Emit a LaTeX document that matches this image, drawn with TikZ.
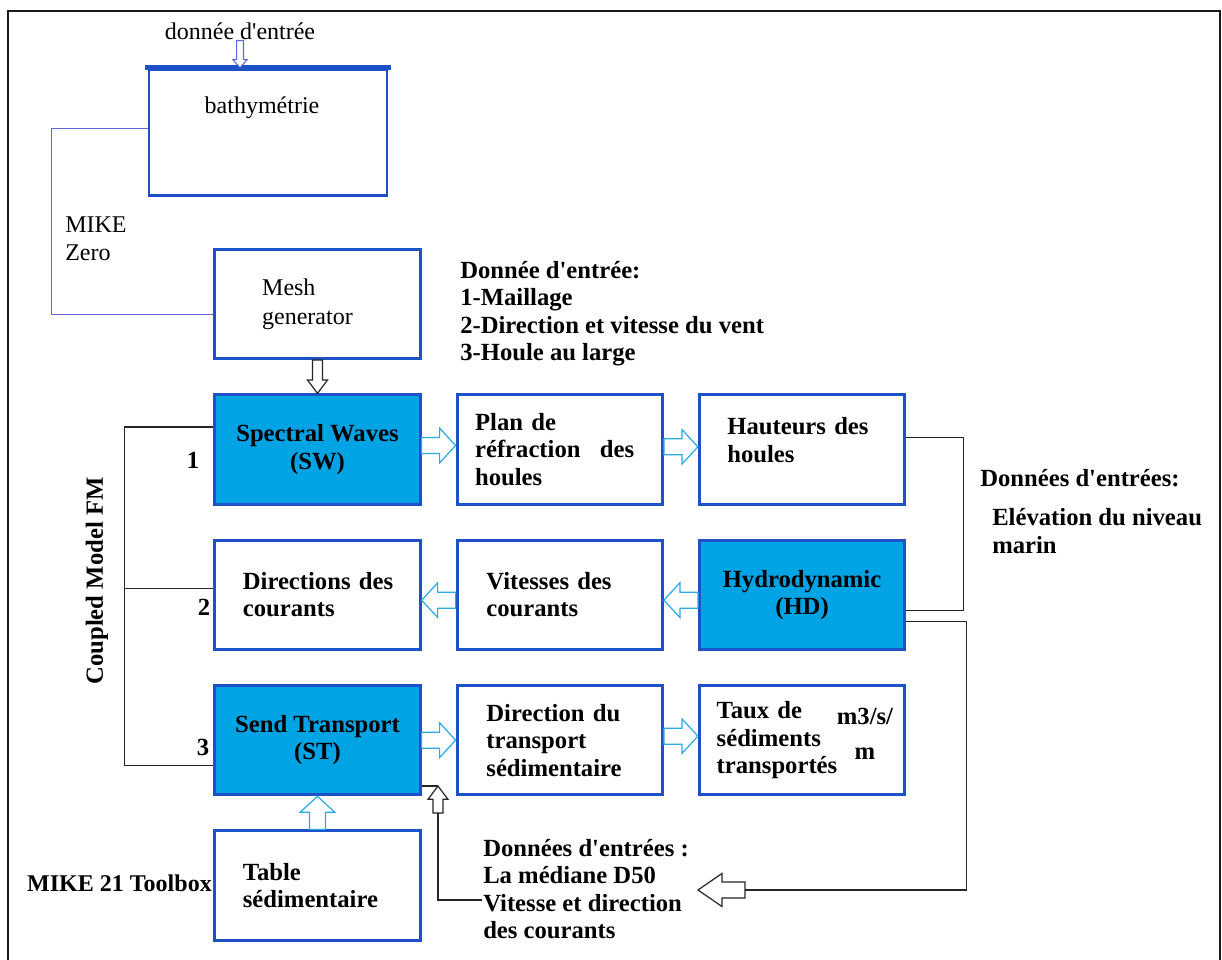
\documentclass[tikz,border=0pt]{standalone}
\usepackage{fontspec}
\setmainfont{Liberation Serif}
\usepackage{tikz}
\usetikzlibrary{positioning, calc}

\definecolor{boxblue}{RGB}{30,80,200}
\definecolor{modelfill}{RGB}{0,163,228}
\definecolor{flowcyan}{RGB}{40,170,232}
\definecolor{zeroblue}{RGB}{95,100,225}

\newcommand{\ap}{\textquotesingle}

% hollow block arrow drawn from the start point to the target: shaft half width / head half width / head length
\tikzset{hollow/.style args={#1/#2/#3}{to path={
  let \p1=(\tikztostart), \p2=(\tikztotarget),
      \n1={atan2(\y2-\y1,\x2-\x1)}, \n2={veclen(\x2-\x1,\y2-\y1)} in
  {[shift={(\p1)}, rotate=\n1]
   (0pt,-#1) -- (\n2-#3,-#1) -- (\n2-#3,-#2) -- (\n2,0pt)
   -- (\n2-#3,#2) -- (\n2-#3,#1) -- (0pt,#1) -- cycle}}}}

\tikzstyle{block} = [rectangle, draw=boxblue, line width=2.2pt, minimum width=154pt, minimum height=82pt, font=\bfseries\fontsize{18.5}{20.6}\selectfont]
\tikzstyle{model} = [block, fill=modelfill, align=center]
\tikzstyle{note} = [inner sep=0pt, align=left, font=\bfseries\fontsize{18.5}{20.6}\selectfont]
\tikzstyle{plain} = [inner sep=0pt, align=left, font=\fontsize{18}{21}\selectfont]
\tikzstyle{link} = [draw=black!85, line width=1pt]
\tikzstyle{zeroline} = [draw=zeroblue, line width=0.9pt]
\tikzstyle{flow} = [draw=flowcyan, fill=white, line width=0.9pt, hollow=6pt/13pt/12pt]
\tikzstyle{feed} = [draw=black!85, fill=white, line width=0.9pt, hollow=3.75pt/7.5pt/10pt]
\tikzstyle{bigfeed} = [draw=black!85, fill=white, line width=0.9pt, hollow=6pt/12.4pt/18pt]
\tikzstyle{inflow} = [draw=zeroblue, fill=white, line width=0.8pt, hollow=2.6pt/5.3pt/6pt]

\begin{document}
\begin{tikzpicture}[x=0.75pt, y=-0.75pt, node distance=24.8pt and 25.5pt]
    \useasboundingbox (0,0) rectangle (1222,960);
    % page frame, open at the bottom
    \draw[line width=1.6pt, black!90] (8,962) -- (8,11) -- (1220,11) -- (1220,962);

    % MIKE Zero part
    \node[block, minimum width=178.5pt, minimum height=95pt] (bathy) at (268,132.5) {};
    \draw[boxblue, line width=3.6pt] ([xshift=-2pt]bathy.north west) -- ([xshift=2pt]bathy.north east);
    \node[plain, below=22pt of bathy.north, xshift=-4.5pt] (bathylabel) {bathymétrie};
    \node[plain, anchor=base] (topinput) at (240,40) {donnée d\ap entrée};
    \draw[inflow] (topinput.south) to (topinput.south |- bathy.north);

    % Coupled model FM
    \node[model] (sw) at (317.5,449.5) {Spectral Waves\\(SW)};
    \node[block, font=\fontsize{18}{21.75}\selectfont, text width=83pt, align=left, above=25pt of sw] (mesh) {Mesh\\generator};
    \node[block, text width=127pt, align=left, right=of sw] (plan) {Plan de\\réfraction\hspace{0.45em} des\\houles};
    \node[block, text width=112pt, align=left, right=of plan] (hauteurs) {Hauteurs des\\houles\\[-6pt]\mbox{}};

    \node[block, text width=112pt, align=left, below=of sw] (dirc) {Directions~des\\courants};
    \node[block, text width=110pt, align=left, right=of dirc] (vitc) {Vitesses des\\courants};
    \node[model, right=of vitc] (hd) {Hydrodynamic\\(HD)};

    \node[model, below=of dirc] (st) {Send Transport\\(ST)};
    \node[block, text width=110pt, align=left, right=of st] (dirt) {Direction du\\transport\\sédimentaire};
    \node[block, text width=128pt, align=left, right=of dirt] (taux) {Taux de\\sédiments\\transportés};
    \node[note, align=center, font=\bfseries\fontsize{18.5}{26}\selectfont] (unit) at (865,734) {m3/s/\\m};

    \node[block, text width=112pt, align=left, below=of st] (table) {Table\\sédimentaire};

    % side labels
    \node[plain, anchor=west] (mikezero) at (65,239) {MIKE\\Zero};
    \node[note, rotate=90] (cplabel) at (97,581) {Coupled Model FM};
    \node[note, font=\bfseries\fontsize{18}{20.6}\selectfont, anchor=east] (toolbox) at (212,883) {MIKE 21 Toolbox};
    \node[note] (n1) at (193,460) {1};
    \node[note] (n2) at (204,607) {2};
    \node[note] (n3) at (203,747) {3};

    % input data
    \node[note, anchor=west] (meshin) at (460,313.5) {Donnée d\ap entrée:\\1-Maillage\\2-Direction et vitesse du vent\\3-Houle au large};
    \node[note, anchor=west] (hdin) at (980,478) {Données d\ap entrées:};
    \node[note, anchor=west] (hdlevel) at (992,531) {Elévation du niveau\\marin};
    \node[note, anchor=west] (sedin) at (483,889) {Données d\ap entrées :\\La médiane D50\\Vitesse et direction\\des courants};

    \coordinate (d50tip) at (698,890);
    \coordinate (d50tail) at (745,890);
    \coordinate (sttip) at (438,786);
    \coordinate (stbase) at (438,813);
    \coordinate (stfoot) at (482,900);

    % Arrows
    \draw[zeroline] ([yshift=3pt]bathy.west) -- ++(-96,0) |- ([yshift=-8pt]mesh.west);
    \draw[feed] (mesh.south) to (sw.north);
    \draw[flow] ([yshift=3pt]sw.east) to ([yshift=3pt]plan.west);
    \draw[flow] ([yshift=2pt]plan.east) to ([yshift=2pt]hauteurs.west);
    \draw[flow] ([yshift=-4pt]hd.west) to ([yshift=-4pt]vitc.east);
    \draw[flow] ([yshift=-4pt]vitc.west) to ([yshift=-4pt]dirc.east);
    \draw[flow] (st.east) to (dirt.west);
    \draw[flow] ([yshift=3pt]dirt.east) to ([yshift=3pt]taux.west);
    \draw[flow] (table.north) to (st.south);

    \draw[link] ([yshift=17pt]sw.west) -- ++(-89,0) |- ([yshift=-19pt]st.west);
    \draw[link] ([yshift=5pt]dirc.west) -- ++(-89,0);

    \draw[link] ([yshift=9pt]hauteurs.east) -- ++(57,0) |- ([yshift=-11.5pt]hd.east);
    \draw[link] ([yshift=-20pt]hd.east) -- ++(60,0) |- (d50tail);
    \draw[bigfeed] (d50tail) to (d50tip);

    \draw[link] (sttip -| st.east) -- (sttip);
    \draw[feed] (stbase) to (sttip);
    \draw[link] (stbase) |- (stfoot);
\end{tikzpicture}
\end{document}
